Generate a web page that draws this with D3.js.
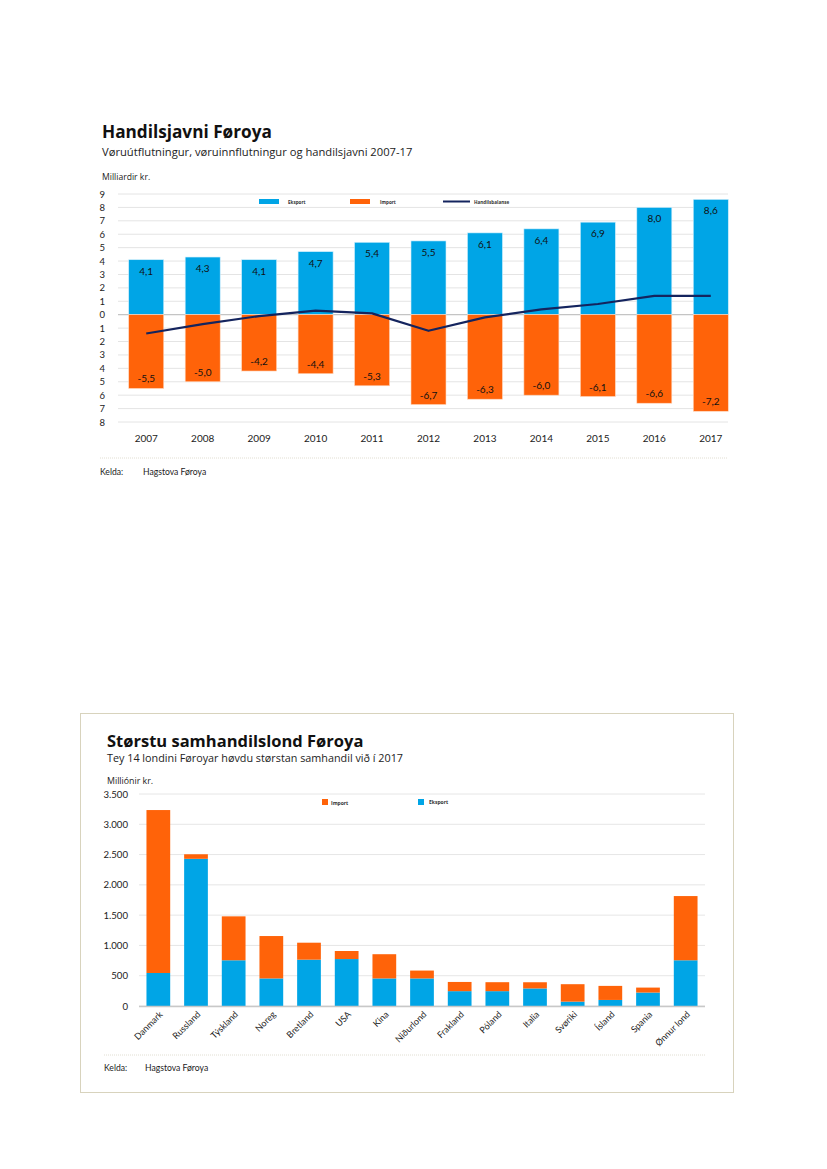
<!DOCTYPE html>
<html><head><meta charset="utf-8">
<script src="https://cdn.jsdelivr.net/npm/d3@7"></script>
<style>body{margin:0;background:#fff}svg{display:block}</style>
</head><body>
<svg id="c" width="827" height="1169"></svg>
<script>
// ---- Chart 1 data ----
const years = ["2007","2008","2009","2010","2011","2012","2013","2014","2015","2016","2017"];
const eksport = [4.1,4.3,4.1,4.7,5.4,5.5,6.1,6.4,6.9,8.0,8.6];
const importV = [-5.5,-5.0,-4.2,-4.4,-5.3,-6.7,-6.3,-6.0,-6.1,-6.6,-7.2];
const balanse = [-1.4,-0.7,-0.1,0.3,0.1,-1.2,-0.2,0.4,0.8,1.4,1.4];
const yTicks1 = [9,8,7,6,5,4,3,2,1,0,-1,-2,-3,-4,-5,-6,-7,-8];

// ---- Chart 2 data ----
const lond = ["Danmark","Russland","Týskland","Noreg","Bretland","USA","Kina","Niðurlond","Frakland","Póland","Italia","Svøriki","Ísland","Spania","Ønnur lond"];
const eksport2 = [545,2430,755,455,765,775,455,455,245,245,290,72,100,222,755];
const import2 = [2690,75,725,700,280,133,400,130,152,148,102,288,232,82,1060];
const yTicks2 = [0,500,1000,1500,2000,2500,3000,3500];

const BLUE = "#00a5e6", ORANGE = "#ff6309", NAVY = "#14245e";
const TXT = "#222";
const svg = d3.select("#c");
const fmt1 = v => v.toFixed(1).replace(".", ",");
const loc = d3.formatLocale({decimal:",", thousands:".", grouping:[3], currency:["",""]});
const fmtK = loc.format(",");

// ================= Chart 1 =================
(function(){
  const g = svg.append("g");
  g.append("text").attr("x",102).attr("y",138).attr("font-family","Open Sans").attr("font-weight",700)
    .attr("font-size",17.2).attr("fill","#111").text("Handilsjavni Føroya");
  g.append("text").attr("x",102).attr("y",156).attr("font-family","Open Sans")
    .attr("font-size",11.2).attr("fill","#222").text("Vøruútflutningur, vøruinnflutningur og handilsjavni 2007-17");
  g.append("text").attr("x",102).attr("y",180).attr("font-family","Open Sans")
    .attr("font-size",8.6).attr("fill","#222").text("Milliardir kr.");

  const x = d3.scaleBand().domain(years).range([118,739]).paddingInner(0.38).paddingOuter(0.19);
  const y = d3.scaleLinear().domain([-8,9]).range([422,194]);

  g.append("g").selectAll("line").data(yTicks1).join("line")
    .attr("x1",118).attr("x2",728).attr("y1",d=>y(d)).attr("y2",d=>y(d))
    .attr("stroke",d=>d===0?"#b5b5b5":"#e4e4e4").attr("stroke-width",1);

  const ya = g.append("g").attr("transform","translate(108,0)")
    .call(d3.axisLeft(y).tickValues(yTicks1).tickSize(0).tickFormat(d=>Math.abs(d)));
  ya.select(".domain").remove();
  ya.selectAll("text").attr("font-family","Lato").attr("font-size",9.5).attr("fill",TXT);

  g.append("g").selectAll("rect").data(eksport).join("rect")
    .attr("x",(d,i)=>x(years[i])).attr("width",x.bandwidth())
    .attr("y",d=>y(d)).attr("height",d=>y(0)-y(d)).attr("fill",BLUE)
    .attr("stroke","#cfeefc").attr("stroke-width",0.6);
  g.append("g").selectAll("rect").data(importV).join("rect")
    .attr("x",(d,i)=>x(years[i])).attr("width",x.bandwidth())
    .attr("y",y(0)).attr("height",d=>y(d)-y(0)).attr("fill",ORANGE)
    .attr("stroke","#ffd9c0").attr("stroke-width",0.6);

  g.append("g").selectAll("text").data(eksport).join("text")
    .attr("x",(d,i)=>x(years[i])+x.bandwidth()/2).attr("y",d=>y(d)+15)
    .attr("text-anchor","middle").attr("font-family","Lato").attr("font-size",10).attr("fill","#111")
    .text(fmt1);
  g.append("g").selectAll("text").data(importV).join("text")
    .attr("x",(d,i)=>x(years[i])+x.bandwidth()/2).attr("y",d=>y(d)-6)
    .attr("text-anchor","middle").attr("font-family","Lato").attr("font-size",10).attr("fill","#111")
    .text(fmt1);

  const line = d3.line().x((d,i)=>x(years[i])+x.bandwidth()/2).y(d=>y(d));
  g.append("path").datum(balanse).attr("d",line).attr("fill","none")
    .attr("stroke",NAVY).attr("stroke-width",2.2).attr("stroke-linejoin","round");

  const xa = g.append("g").attr("transform","translate(0,"+(y(-8))+")")
    .call(d3.axisBottom(x).tickSize(0).tickPadding(13));
  xa.select(".domain").remove();
  xa.selectAll("text").attr("font-family","Lato").attr("font-size",10).attr("fill",TXT);

  const lg = g.append("g").attr("font-family","Open Sans").attr("font-weight",700).attr("font-size",4.6).attr("fill","#333");
  lg.append("rect").attr("x",259).attr("y",199).attr("width",20).attr("height",5).attr("fill",BLUE);
  lg.append("text").attr("x",288).attr("y",203.5).text("Eksport");
  lg.append("rect").attr("x",350).attr("y",199).attr("width",20).attr("height",5).attr("fill",ORANGE);
  lg.append("text").attr("x",380).attr("y",204).text("Import");
  lg.append("line").attr("x1",443).attr("x2",470).attr("y1",201.5).attr("y2",201.5).attr("stroke",NAVY).attr("stroke-width",2);
  lg.append("text").attr("x",474).attr("y",203.5).text("Handilsbalanse");

  g.append("line").attr("x1",100).attr("x2",728).attr("y1",458).attr("y2",458)
    .attr("stroke","#d9d6c6").attr("stroke-width",0.8).attr("stroke-dasharray","1,1");
  g.append("text").attr("x",100).attr("y",475).attr("font-family","Lato").attr("font-size",8.6).attr("fill",TXT).text("Kelda:");
  g.append("text").attr("x",143).attr("y",475).attr("font-family","Lato").attr("font-size",8.6).attr("fill",TXT).text("Hagstova Føroya");
})();

// ================= Chart 2 =================
(function(){
  const g = svg.append("g");
  g.append("rect").attr("x",80.5).attr("y",713.5).attr("width",653).attr("height",379)
    .attr("fill","none").attr("stroke","#d8d3bd").attr("stroke-width",1);
  g.append("text").attr("x",107).attr("y",747).attr("font-family","Open Sans").attr("font-weight",700)
    .attr("font-size",16.5).attr("fill","#111").text("Størstu samhandilslond Føroya");
  g.append("text").attr("x",107).attr("y",762).attr("font-family","Open Sans")
    .attr("font-size",10.8).attr("fill","#222").text("Tey 14 londini Føroyar høvdu størstan samhandil við í 2017");
  g.append("text").attr("x",107).attr("y",784).attr("font-family","Open Sans")
    .attr("font-size",8.8).attr("fill","#222").text("Milliónir kr.");

  const x = d3.scaleBand().domain(lond).range([139.5,704.5]).paddingInner(0.37).paddingOuter(0.185);
  const y = d3.scaleLinear().domain([0,3500]).range([1006,794]);

  g.append("g").selectAll("line").data(yTicks2).join("line")
    .attr("x1",139).attr("x2",705).attr("y1",d=>y(d)).attr("y2",d=>y(d))
    .attr("stroke","#e6e6e6").attr("stroke-width",1);

  const ya = g.append("g").attr("transform","translate(131,0)")
    .call(d3.axisLeft(y).tickValues(yTicks2).tickSize(0).tickFormat(fmtK));
  ya.select(".domain").remove();
  ya.selectAll("text").attr("font-family","Lato").attr("font-size",9.6).attr("fill",TXT);

  g.append("g").selectAll("rect").data(eksport2).join("rect")
    .attr("x",(d,i)=>x(lond[i])).attr("width",x.bandwidth())
    .attr("y",d=>y(d)).attr("height",d=>y(0)-y(d)).attr("fill",BLUE);
  g.append("g").selectAll("rect").data(import2).join("rect")
    .attr("x",(d,i)=>x(lond[i])).attr("width",x.bandwidth())
    .attr("y",(d,i)=>y(eksport2[i]+d)).attr("height",(d,i)=>y(eksport2[i])-y(eksport2[i]+d)).attr("fill",ORANGE);

  g.append("line").attr("x1",139).attr("x2",705).attr("y1",y(0)+0.5).attr("y2",y(0)+0.5)
    .attr("stroke","#c8c8c8").attr("stroke-width",1.6);

  const xa = g.append("g").attr("transform","translate(0,"+y(0)+")")
    .call(d3.axisBottom(x).tickSize(0).tickPadding(0));
  xa.select(".domain").remove();
  xa.selectAll("text").attr("font-family","Lato").attr("font-size",9).attr("fill",TXT)
    .attr("text-anchor","end").attr("dy",0)
    .attr("transform","translate(5,9) rotate(-45)");

  const lg = g.append("g").attr("font-family","Open Sans").attr("font-weight",700).attr("font-size",5).attr("fill","#333");
  lg.append("rect").attr("x",322).attr("y",799).attr("width",6).attr("height",6).attr("fill",ORANGE);
  lg.append("text").attr("x",331).attr("y",804.5).text("Import");
  lg.append("rect").attr("x",418).attr("y",799).attr("width",6).attr("height",6).attr("fill",BLUE);
  lg.append("text").attr("x",429).attr("y",804).text("Eksport");

  g.append("line").attr("x1",104).attr("x2",706).attr("y1",1055).attr("y2",1055)
    .attr("stroke","#d9d6c6").attr("stroke-width",0.8).attr("stroke-dasharray","1,1");
  g.append("text").attr("x",104).attr("y",1071).attr("font-family","Lato").attr("font-size",8.6).attr("fill",TXT).text("Kelda:");
  g.append("text").attr("x",145).attr("y",1071).attr("font-family","Lato").attr("font-size",8.6).attr("fill",TXT).text("Hagstova Føroya");
})();
</script>
</body></html>
